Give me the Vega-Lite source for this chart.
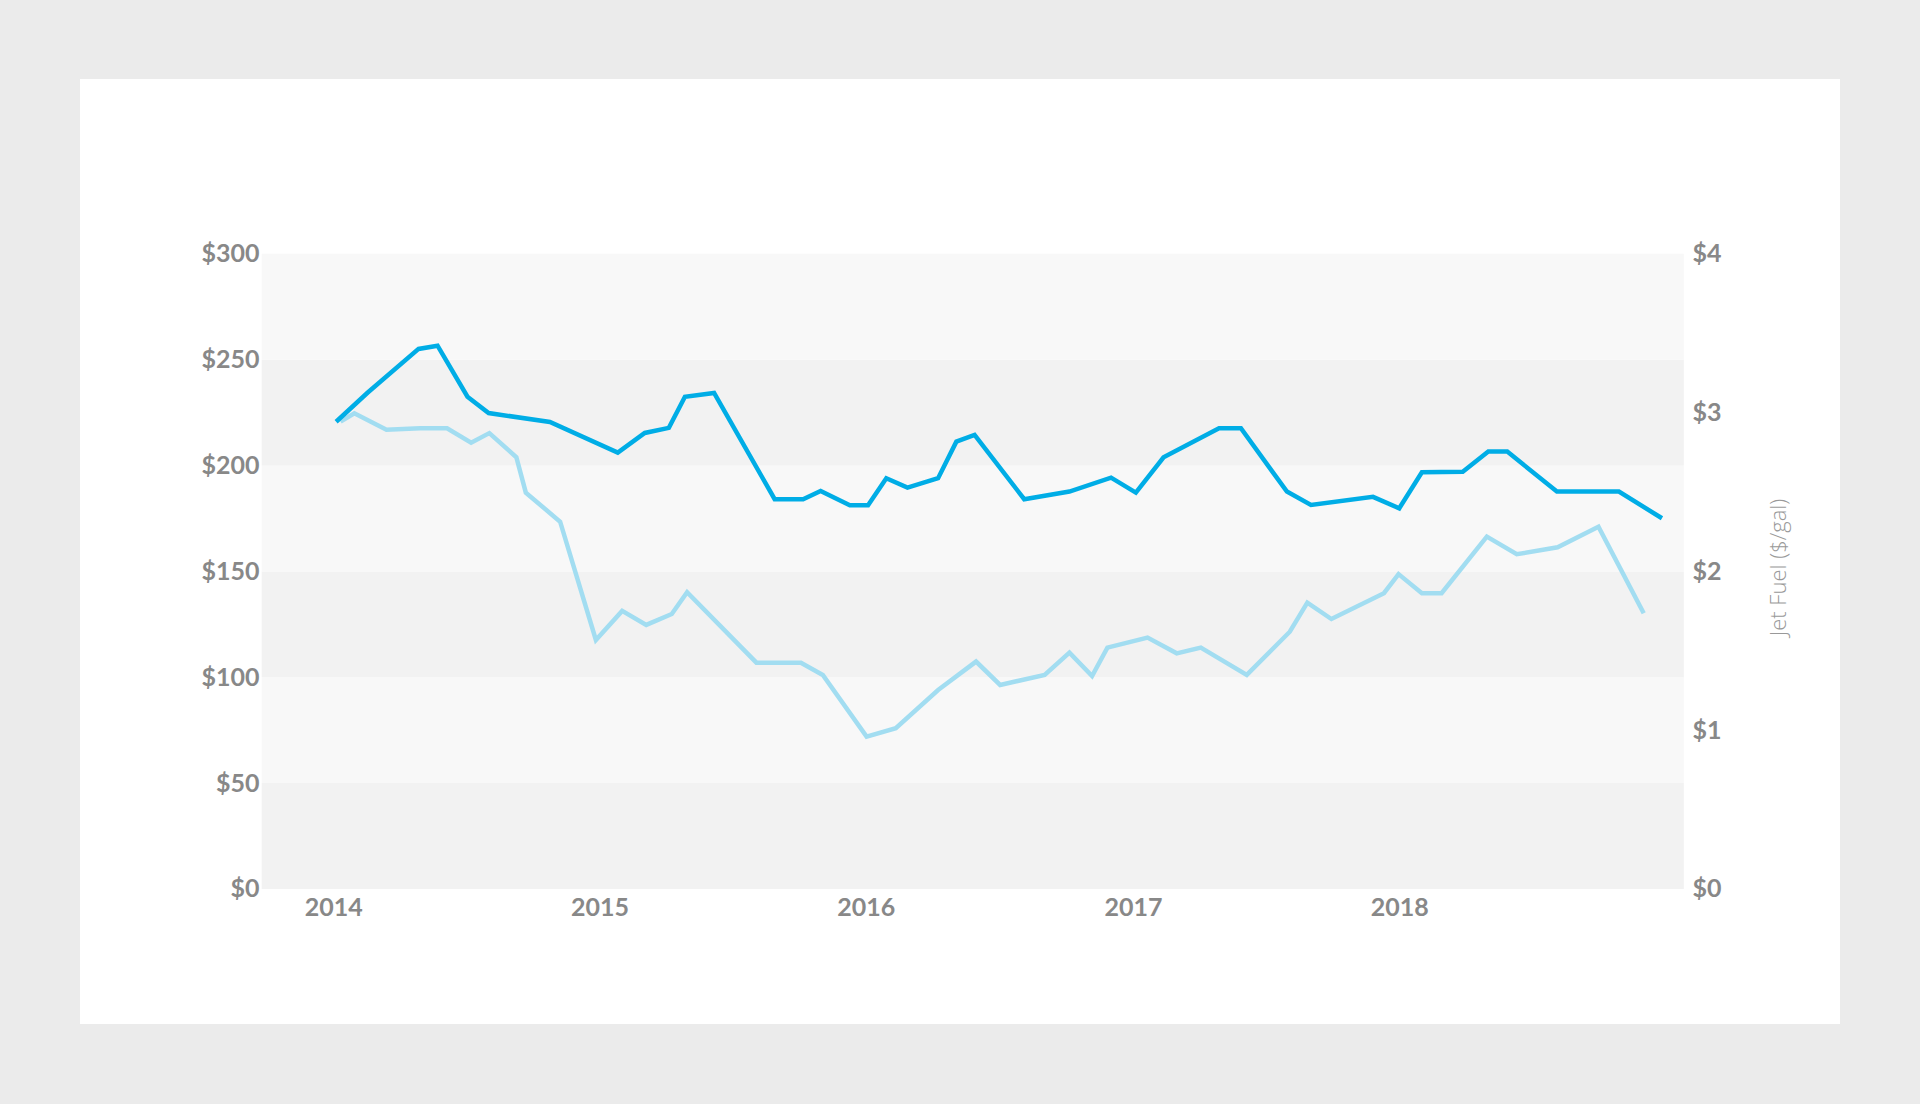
{
  "$schema": "https://vega.github.io/schema/vega-lite/v6.json",
  "width": 1760,
  "height": 945,
  "autosize": {"type": "none"},
  "padding": {"left": 80, "top": 79, "right": 80, "bottom": 80},
  "background": "#ebebeb",
  "view": {"fill": "#ffffff", "stroke": null},
  "config": {
    "axis": {"labelFont": "Lato", "labelFontWeight": "bold", "labelFontSize": 25, "labelColor": "#888888", "grid": false, "domain": false, "ticks": false, "tickSize": 0}
  },
  "datasets": {
    "bands": [
      {"lo": 0, "hi": 50, "shade": "dark"},
      {"lo": 50, "hi": 100, "shade": "light"},
      {"lo": 100, "hi": 150, "shade": "dark"},
      {"lo": 150, "hi": 200, "shade": "light"},
      {"lo": 200, "hi": 250, "shade": "dark"},
      {"lo": 250, "hi": 300, "shade": "light"}
    ],
    "stock": [
      {"date": "2014-01-05", "price": 220.7},
      {"date": "2014-02-17", "price": 234.4},
      {"date": "2014-04-28", "price": 255.1},
      {"date": "2014-05-24", "price": 256.6},
      {"date": "2014-07-04", "price": 232.5},
      {"date": "2014-08-02", "price": 224.8},
      {"date": "2014-10-25", "price": 220.6},
      {"date": "2015-01-26", "price": 206.1},
      {"date": "2015-03-04", "price": 215.4},
      {"date": "2015-04-06", "price": 217.8},
      {"date": "2015-04-28", "price": 232.5},
      {"date": "2015-06-07", "price": 234.3},
      {"date": "2015-08-29", "price": 184.1},
      {"date": "2015-10-07", "price": 184.1},
      {"date": "2015-10-31", "price": 188.0},
      {"date": "2015-12-10", "price": 181.2},
      {"date": "2016-01-04", "price": 181.2},
      {"date": "2016-01-29", "price": 194.0},
      {"date": "2016-02-27", "price": 189.6},
      {"date": "2016-04-09", "price": 194.0},
      {"date": "2016-05-04", "price": 211.3},
      {"date": "2016-05-29", "price": 214.5},
      {"date": "2016-08-05", "price": 184.1},
      {"date": "2016-10-06", "price": 187.7},
      {"date": "2016-12-02", "price": 194.3},
      {"date": "2017-01-05", "price": 187.2},
      {"date": "2017-02-12", "price": 203.9},
      {"date": "2017-04-29", "price": 217.6},
      {"date": "2017-05-29", "price": 217.6},
      {"date": "2017-07-31", "price": 187.7},
      {"date": "2017-09-02", "price": 181.4},
      {"date": "2017-11-26", "price": 185.2},
      {"date": "2018-01-01", "price": 179.8},
      {"date": "2018-02-01", "price": 196.8},
      {"date": "2018-03-29", "price": 197.1},
      {"date": "2018-05-03", "price": 206.6},
      {"date": "2018-05-29", "price": 206.6},
      {"date": "2018-08-05", "price": 187.7},
      {"date": "2018-10-29", "price": 187.7},
      {"date": "2018-12-27", "price": 175.1}
    ],
    "fuel": [
      {"date": "2014-01-11", "gal": 2.943},
      {"date": "2014-01-30", "gal": 2.996},
      {"date": "2014-03-15", "gal": 2.892},
      {"date": "2014-04-30", "gal": 2.901},
      {"date": "2014-06-06", "gal": 2.901},
      {"date": "2014-07-09", "gal": 2.811},
      {"date": "2014-08-03", "gal": 2.871},
      {"date": "2014-09-09", "gal": 2.719},
      {"date": "2014-09-22", "gal": 2.496},
      {"date": "2014-11-08", "gal": 2.313},
      {"date": "2014-12-27", "gal": 1.568},
      {"date": "2015-02-01", "gal": 1.751},
      {"date": "2015-03-06", "gal": 1.663},
      {"date": "2015-04-10", "gal": 1.732},
      {"date": "2015-05-01", "gal": 1.869},
      {"date": "2015-08-04", "gal": 1.425},
      {"date": "2015-10-04", "gal": 1.425},
      {"date": "2015-11-03", "gal": 1.348},
      {"date": "2016-01-02", "gal": 0.959},
      {"date": "2016-02-11", "gal": 1.012},
      {"date": "2016-04-09", "gal": 1.253},
      {"date": "2016-05-31", "gal": 1.432},
      {"date": "2016-07-03", "gal": 1.285},
      {"date": "2016-09-02", "gal": 1.348},
      {"date": "2016-10-06", "gal": 1.488},
      {"date": "2016-11-06", "gal": 1.341},
      {"date": "2016-11-27", "gal": 1.520},
      {"date": "2017-01-21", "gal": 1.583},
      {"date": "2017-03-02", "gal": 1.484},
      {"date": "2017-04-04", "gal": 1.520},
      {"date": "2017-06-06", "gal": 1.348},
      {"date": "2017-08-04", "gal": 1.620},
      {"date": "2017-08-28", "gal": 1.803},
      {"date": "2017-09-30", "gal": 1.700},
      {"date": "2017-12-11", "gal": 1.863},
      {"date": "2017-12-31", "gal": 1.983},
      {"date": "2018-02-01", "gal": 1.863},
      {"date": "2018-02-28", "gal": 1.863},
      {"date": "2018-05-01", "gal": 2.219},
      {"date": "2018-06-11", "gal": 2.108},
      {"date": "2018-08-06", "gal": 2.152},
      {"date": "2018-10-01", "gal": 2.281},
      {"date": "2018-12-02", "gal": 1.736}
    ]
  },
  "layer": [
    {
      "data": {"name": "bands"},
      "mark": {"type": "rect"},
      "encoding": {
        "x": {"datum": {"year": 2013, "month": 9, "date": 25}, "type": "temporal"},
        "x2": {"datum": {"year": 2019, "month": 1, "date": 26}},
        "y": {
          "field": "lo", "type": "quantitative",
          "scale": {"domain": [-63.8, 382.6], "nice": false, "zero": false},
          "axis": {"orient": "left", "title": null, "values": [0, 50, 100, 150, 200, 250, 300], "labelExpr": "'$' + datum.value", "offset": -182, "labelPadding": 3}
        },
        "y2": {"field": "hi"},
        "color": {"field": "shade", "type": "nominal", "scale": {"domain": ["dark", "light"], "range": ["#f2f2f2", "#f8f8f8"]}, "legend": null}
      }
    },
    {
      "data": {"name": "fuel"},
      "mark": {"type": "line", "color": "#a2ddf1", "strokeWidth": 4.5},
      "encoding": {
        "x": {"field": "date", "type": "temporal"},
        "y": {
          "field": "gal", "type": "quantitative",
          "scale": {"domain": [-0.8507, 5.1013], "nice": false, "zero": false},
          "axis": {"orient": "right", "values": [0, 1, 2, 3, 4], "labelExpr": "'$' + datum.value", "offset": -156, "labelPadding": 8, "title": "Jet Fuel ($/gal)", "titleFont": "Open Sans", "titleFontWeight": 300, "titleFontSize": 22, "titleColor": "#999999", "titleAngle": 270, "titlePadding": 69, "titleY": 488}
        }
      }
    },
    {
      "data": {"name": "stock"},
      "mark": {"type": "line", "color": "#00ade6", "strokeWidth": 4.5},
      "encoding": {
        "x": {
          "field": "date", "type": "temporal",
          "scale": {"domain": [{"year": 2013, "month": 1, "date": 19}, {"year": 2019, "month": 8, "date": 28}], "nice": false},
          "axis": {"title": null, "values": [{"year": 2014}, {"year": 2015}, {"year": 2016}, {"year": 2017}, {"year": 2018}], "format": "%Y", "offset": -135, "labelPadding": 6, "labelOverlap": false}
        },
        "y": {
          "field": "price", "type": "quantitative",
          "scale": {"domain": [-63.8, 382.6], "nice": false, "zero": false},
          "axis": null
        }
      }
    }
  ],
  "resolve": {"scale": {"y": "independent"}}
}
